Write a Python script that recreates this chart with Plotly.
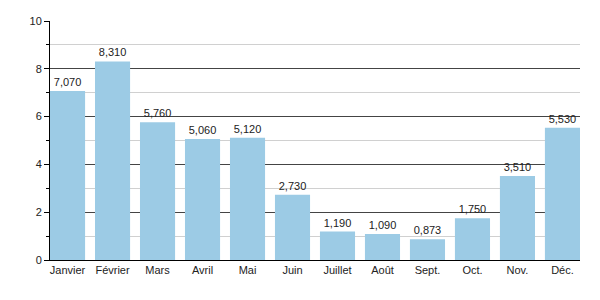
import plotly.graph_objects as go

months = ["Janvier", "Février", "Mars", "Avril", "Mai", "Juin", "Juillet",
          "Août", "Sept.", "Oct.", "Nov.", "Déc."]
values = [7.07, 8.31, 5.76, 5.06, 5.12, 2.73, 1.19, 1.09, 0.873, 1.75, 3.51, 5.53]

fig = go.Figure(go.Bar(
    x=months, y=values,
    marker=dict(color="#9ccbe5", line=dict(width=0)),
    texttemplate="%{y:.3f}", textposition="outside",
    textfont=dict(size=11, color="#222"),
    cliponaxis=False,
))

fig.update_layout(
    width=600, height=300,
    margin=dict(l=50, r=20, t=21, b=40),
    paper_bgcolor="white", plot_bgcolor="white",
    separators=", ",
    bargap=0.22,
    showlegend=False,
    font=dict(family="Liberation Sans, Arial, sans-serif", size=11, color="#222"),
)
fig.update_yaxes(
    range=[0, 10], dtick=2, tick0=0,
    showgrid=True, gridcolor="#444", gridwidth=1,
    showline=True, linecolor="black", linewidth=1,
    ticks="outside", ticklen=5, tickcolor="black",
    zeroline=False,
    minor=dict(dtick=1, showgrid=True, gridcolor="#d0d0d0", ticks="outside", ticklen=3, tickcolor="black"),
    tickfont=dict(size=11),
)
fig.update_xaxes(
    range=[-0.39, 11.39],
    showline=True, linecolor="black", linewidth=1,
    ticks="", showgrid=False,
    tickfont=dict(size=11),
)

fig.write_html("out.html")
